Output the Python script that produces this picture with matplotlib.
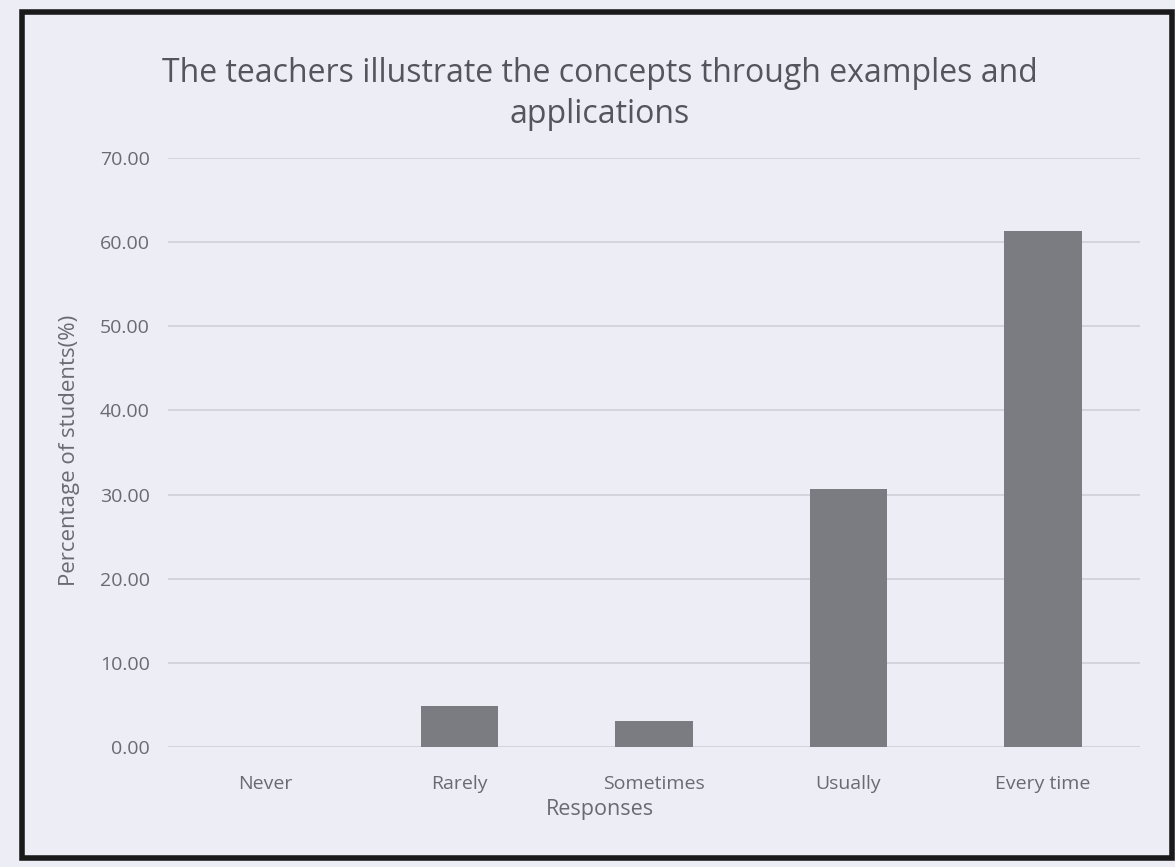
import matplotlib
matplotlib.use("Agg")
import matplotlib.pyplot as plt
from matplotlib.patches import Rectangle

# ── Data ─────────────────────────────────────────────────────────────────────
responses = ["Never", "Rarely", "Sometimes", "Usually", "Every time"]
percent   = [0.0, 4.9, 3.1, 30.7, 61.3]
y_ticks   = [0, 10, 20, 30, 40, 50, 60, 70]

C_BG    = "#ededf5"
C_BAR   = "#7b7c82"
C_GRID  = "#cfcfd8"
C_TEXT  = "#6a6a72"
C_TITLE = "#55555c"

plt.rcParams["font.family"] = ["Open Sans", "DejaVu Sans"]

fig = plt.figure(figsize=(11.75, 8.67), dpi=100, facecolor=C_BG)
ax = fig.add_axes([168 / 1175, 1 - 747 / 867, 972 / 1175, 589 / 867])
ax.set_facecolor(C_BG)

x = range(len(responses))
ax.bar(x, percent, width=0.4, color=C_BAR, zorder=3)

ax.set_xlim(-0.5, len(responses) - 0.5)
ax.set_ylim(0, 70)
ax.set_yticks(y_ticks)
ax.set_yticklabels([f"{v:.2f}" for v in y_ticks], fontsize=14, color=C_TEXT)
ax.set_xticks(list(x))
ax.set_xticklabels(responses, fontsize=14, color=C_TEXT)
ax.tick_params(length=0)
ax.tick_params(axis="y", pad=13)
ax.tick_params(axis="x", pad=20)
ax.grid(True, axis="y", color=C_GRID, linewidth=1.2, zorder=0)
for s in ax.spines.values():
    s.set_visible(False)

fig.text(600 / 1175, 1 - 809 / 867, "Responses", ha="center", va="center",
         fontsize=15.5, color=C_TEXT)
fig.text(70 / 1175, 1 - 450 / 867, "Percentage of students(%)", ha="center",
         va="center", rotation=90, fontsize=16, color=C_TEXT)
fig.text(600 / 1175, 1 - 94 / 867,
         "The teachers illustrate the concepts through examples and\napplications",
         ha="center", va="center", fontsize=23, color=C_TITLE, linespacing=1.3)

# scanned page frame
fig.patches.append(Rectangle((22 / 1175, 1 - 858 / 867), 1150 / 1175, 846 / 867,
                             transform=fig.transFigure, fill=False,
                             edgecolor="#1a1a1a", linewidth=4))

fig.savefig("out.png", dpi=100, facecolor=fig.get_facecolor())
